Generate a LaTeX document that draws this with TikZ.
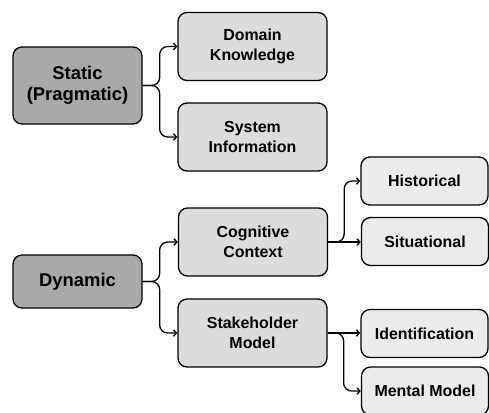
\documentclass[tikz,border=0pt]{standalone}
\usepackage{fontspec}
\setmainfont{Liberation Sans}
\usetikzlibrary{arrows.meta}
\definecolor{rootgray}{HTML}{A9A9A9}
\definecolor{midgray}{HTML}{DCDCDC}
\definecolor{leafgray}{HTML}{EBEBEB}

\begin{document}
\begin{tikzpicture}[x=1bp,y=-1bp,
	box/.style={draw, line width=1.3bp, rounded corners=9bp, align=center, inner sep=0pt,
		font=\bfseries\fontsize{16}{20.5}\selectfont},
	rootbox/.style={box, fill=rootgray, minimum width=129bp,
		font=\bfseries\fontsize{18.5}{21.5}\selectfont},
	midbox/.style={box, fill=midgray, minimum width=149bp, minimum height=68bp},
	leafbox/.style={box, fill=leafgray, minimum width=127bp, minimum height=48bp},
	link/.style={line width=1.3bp, rounded corners=8bp, -{Straight Barb[length=3bp,width=6.5bp]}}]
\useasboundingbox (0,0) rectangle (489,412);
\node[rootbox, minimum height=77bp] (static) at (77.5,85.5) {Static\\(Pragmatic)};
\node[midbox] (domain) at (252.5,46.5) {Domain\\Knowledge};
\node[midbox] (sysinfo) at (252.5,137) {System\\Information};
\node[rootbox, minimum height=53bp] (dynamic) at (77.5,281.5) {Dynamic};
\node[midbox] (cognitive) at (253,242) {Cognitive\\Context};
\node[midbox] (stakeholder) at (252.5,333) {Stakeholder\\Model};
\node[leafbox] (historical) at (424.5,181) {Historical};
\node[leafbox] (situational) at (425,241.5) {Situational};
\node[leafbox] (identification) at (424.5,333.5) {Identification};
\node[leafbox] (mental) at (425,391) {Mental Model};
\foreach \a/\b in {static/domain, static/sysinfo, dynamic/cognitive, dynamic/stakeholder}
	\draw[link] (\a.east) -- ++(17,0) |- (\b.west);
\draw[link] (cognitive.east) -- (situational.west |- cognitive.east);
\draw[link] (cognitive.east) -- ++(16,0) |- (historical.west);
\draw[link] (stakeholder.east) -- (identification.west |- stakeholder.east);
\draw[link] (stakeholder.east) -- ++(16,0) |- (mental.west);
\end{tikzpicture}
\end{document}
